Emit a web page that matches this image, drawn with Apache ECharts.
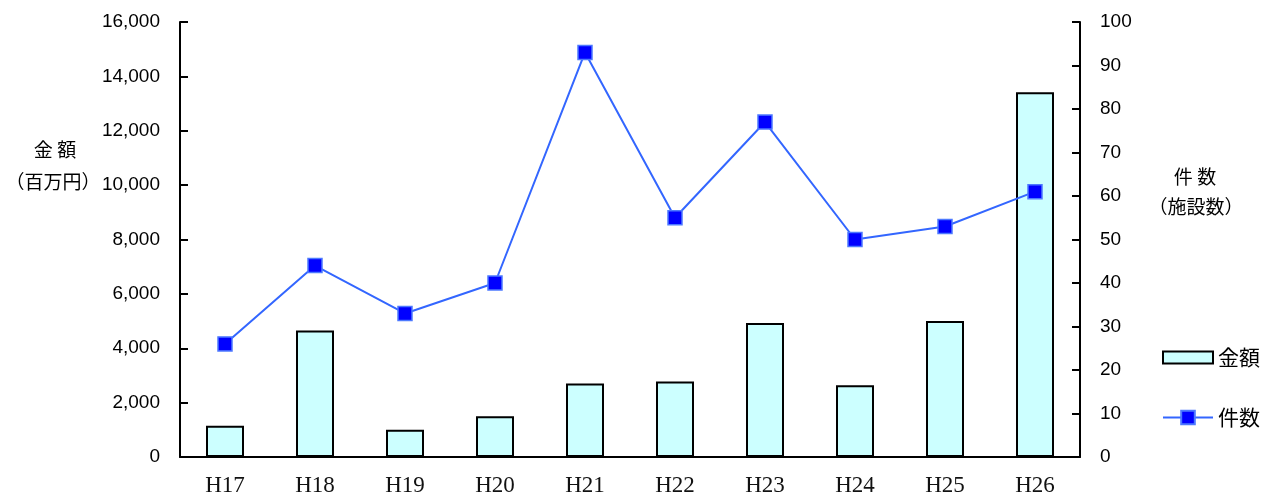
<!DOCTYPE html>
<html>
<head>
<meta charset="utf-8">
<script src="https://cdn.jsdelivr.net/npm/echarts@6/dist/echarts.min.js"></script>
<style>
html,body{margin:0;padding:0;background:#fff;}
#c{width:1266px;height:498px;}
</style>
</head>
<body>
<div id="c"></div>
<script>
const categories = ['H17','H18','H19','H20','H21','H22','H23','H24','H25','H26'];
const amounts = [1150, 4650, 1000, 1500, 2700, 2780, 4930, 2640, 5000, 13420];
const counts = [26, 44, 33, 40, 93, 55, 77, 50, 53, 61];

const chart = echarts.init(document.getElementById('c'));
const sans = '"Liberation Sans", Arial, sans-serif';
const cjk = '"Noto Sans CJK JP", sans-serif';
const legendText = {fontFamily: cjk, fontSize: 21, color: '#000'};
chart.setOption({
  animation: false,
  backgroundColor: '#fff',
  grid: {left: 180, right: 186, top: 22, bottom: 41},
  legend: [{
    orient: 'vertical',
    left: 1162, top: 347, padding: 0,
    itemWidth: 50, itemHeight: 12,
    textStyle: legendText,
    data: [{name: '金額', icon: 'rect'}]
  }, {
    orient: 'vertical',
    left: 1162, top: 407, padding: 0,
    itemWidth: 50, itemHeight: 17,
    textStyle: legendText,
    data: ['件数']
  }],
  xAxis: {
    type: 'category',
    data: categories,
    axisLine: {lineStyle: {color: '#000', width: 2}},
    axisTick: {inside: true, length: 5, lineStyle: {color: '#000', width: 2}},
    axisLabel: {fontFamily: '"Liberation Serif", "Times New Roman", serif', fontSize: 23, color: '#111', margin: 17}
  },
  yAxis: [{
    type: 'value', min: 0, max: 16000, interval: 2000,
    splitLine: {show: false},
    axisLine: {show: true, lineStyle: {color: '#000', width: 2}},
    axisTick: {show: true, inside: true, length: 8, lineStyle: {color: '#000', width: 2}},
    axisLabel: {fontFamily: sans, fontSize: 19, color: '#000', margin: 20,
      formatter: v => v.toLocaleString('en-US')}
  }, {
    type: 'value', min: 0, max: 100, interval: 10,
    splitLine: {show: false},
    axisLine: {show: true, lineStyle: {color: '#000', width: 2}},
    axisTick: {show: true, inside: true, length: 8, lineStyle: {color: '#000', width: 2}},
    axisLabel: {fontFamily: sans, fontSize: 19, color: '#000', margin: 20}
  }],
  graphic: [
    {type: 'text', x: 55, y: 150, style: {text: '金 額', fontFamily: 'Noto Sans CJK JP', fontSize: 19, fill: '#000', align: 'center', verticalAlign: 'middle'}},
    {type: 'text', x: 53, y: 182, style: {text: '（百万円）', fontFamily: 'Noto Sans CJK JP', fontSize: 19, fill: '#000', align: 'center', verticalAlign: 'middle'}},
    {type: 'text', x: 1195, y: 177, style: {text: '件 数', fontFamily: 'Noto Sans CJK JP', fontSize: 19, fill: '#000', align: 'center', verticalAlign: 'middle'}},
    {type: 'text', x: 1196, y: 207, style: {text: '（施設数）', fontFamily: 'Noto Sans CJK JP', fontSize: 19, fill: '#000', align: 'center', verticalAlign: 'middle'}}
  ],
  series: [{
    name: '金額',
    type: 'bar',
    yAxisIndex: 0,
    data: amounts,
    barWidth: 38,
    itemStyle: {color: '#CCFFFF', borderColor: '#000', borderWidth: 2}
  }, {
    name: '件数',
    type: 'line',
    yAxisIndex: 1,
    data: counts,
    symbol: 'rect',
    symbolSize: 14,
    lineStyle: {color: '#3366FF', width: 2},
    itemStyle: {color: '#0000FF', borderColor: '#4D79FF', borderWidth: 1.5}
  }]
});
</script>
</body>
</html>
